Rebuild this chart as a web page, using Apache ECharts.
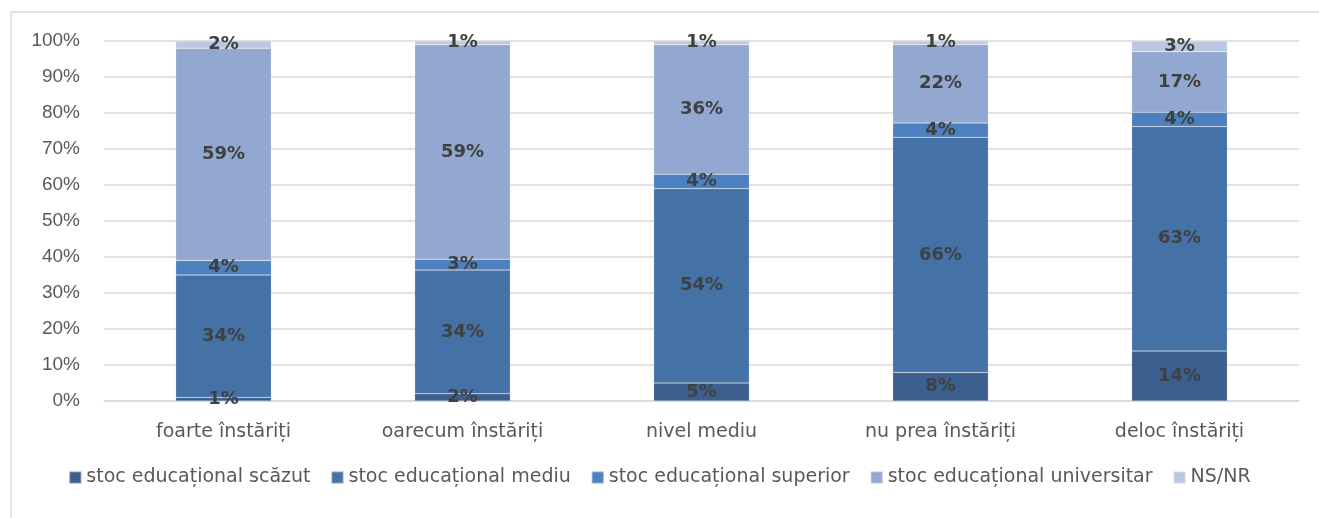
<!DOCTYPE html>
<html>
<head>
<meta charset="utf-8">
<script src="https://cdn.jsdelivr.net/npm/echarts@6/dist/echarts.min.js"></script>
<style>html,body{margin:0;padding:0;background:#fff}#c{width:1319px;height:518px}</style>
</head>
<body>
<div id="c"></div>
<script>
const categories = ['foarte înstăriți', 'oarecum înstăriți', 'nivel mediu', 'nu prea înstăriți', 'deloc înstăriți'];
const seriesNames = ['stoc educațional scăzut', 'stoc educațional mediu', 'stoc educațional superior', 'stoc educațional universitar', 'NS/NR'];
const scazut = [1, 2, 5, 8, 14];
const mediu = [34, 34, 54, 66, 63];
const superior = [4, 3, 4, 4, 4];
const universitar = [59, 59, 36, 22, 17];
const nsnr = [2, 1, 1, 1, 3];
const yTicks = ['0%', '10%', '20%', '30%', '40%', '50%', '60%', '70%', '80%', '90%', '100%'];
const colors = ['#3B5F8E', '#4472A6', '#4C80BE', '#93A8D0', '#BAC8E2'];

const all = [scazut, mediu, superior, universitar, nsnr];
const totals = categories.map((_, i) => all.reduce((s, a) => s + a[i], 0));
const FONT = '"DejaVu Sans", sans-serif';
const FONT2 = '"Liberation Sans", Arial, sans-serif';

const series = all.map((arr, k) => ({
  name: seriesNames[k],
  type: 'bar',
  stack: 'total',
  barWidth: '40%',
  itemStyle: { color: colors[k], borderColor: 'rgba(255,255,255,0.35)', borderWidth: 0.5 },
  label: {
    show: true,
    position: 'inside',
    formatter: p => arr[p.dataIndex] + '%',
    color: '#404040',
    fontWeight: 'bold',
    fontSize: 18,
    fontFamily: FONT
  },
  data: arr.map((v, i) => v / totals[i] * 100)
}));

const chart = echarts.init(document.getElementById('c'));
chart.setOption({
  animation: false,
  backgroundColor: '#fff',
  graphic: [
    { type: 'line', shape: { x1: 11, y1: 12, x2: 1319, y2: 12 }, style: { stroke: '#d9d9d9', lineWidth: 1.5 }, silent: true, z: -10 },
    { type: 'line', shape: { x1: 11, y1: 12, x2: 11, y2: 518 }, style: { stroke: '#d9d9d9', lineWidth: 1.5 }, silent: true, z: -10 }
  ],
  grid: { left: 104, right: 20, top: 41, bottom: 117, containLabel: false },
  legend: {
    top: 463,
    left: 'center',
    itemWidth: 12,
    itemHeight: 12,
    itemGap: 20,
    icon: 'rect',
    textStyle: { color: '#595959', fontSize: 19, fontFamily: FONT, padding: [0, 0, 0, 0] },
    data: seriesNames
  },
  xAxis: {
    type: 'category',
    data: categories,
    axisLine: { show: true, lineStyle: { color: '#d9d9d9', width: 1.5 } },
    axisTick: { show: false },
    axisLabel: { color: '#595959', fontSize: 19, fontFamily: FONT, margin: 22 }
  },
  yAxis: {
    type: 'value',
    min: 0, max: 100, interval: 10,
    axisLine: { show: false },
    axisTick: { show: false },
    splitLine: { lineStyle: { color: '#d9d9d9', width: 1.5 } },
    axisLabel: {
      color: '#595959', fontSize: 19, fontFamily: FONT2, margin: 24,
      formatter: v => yTicks[Math.round(v / 10)]
    }
  },
  series: series
});
</script>
</body>
</html>
